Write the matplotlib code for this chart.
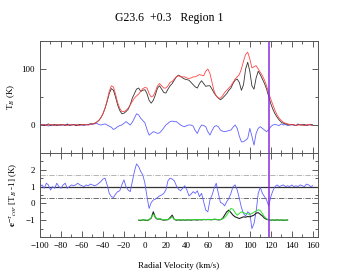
"""
Spectra plot: G23.6 +0.3 Region 1
"""
import numpy
import matplotlib
matplotlib.use('Agg')
import matplotlib.pyplot as plt
from matplotlib.ticker import MultipleLocator

# velocity grid for emission / ratio spectra (km/s)
vel = numpy.arange(-100, 161, 2)

# brightness temperature, observed (black)
tb_obs = [0, 1, -1, 0, 2, -1, 0, 1, -1, 0,
          1, 0, -1, 1, 0, 0, 1, -1, 0, 1,
          0, 1, 0, 1, 2, 2, 3, 5, 8, 13,
          20, 30, 42, 56, 65, 62, 50, 36, 26, 20,
          21, 24, 28, 36, 48, 56, 64, 66, 60, 62,
          63, 56, 44, 39, 44, 54, 66, 70, 64, 58,
          57, 64, 70, 74, 80, 86, 89, 87, 84, 82,
          81, 80, 76, 72, 68, 66, 74, 79, 74, 69,
          70, 70, 64, 57, 52, 48, 45, 48, 52, 56,
          62, 66, 74, 80, 82, 76, 62, 72, 100, 112,
          96, 70, 64, 84, 96, 90, 82, 74, 64, 51,
          38, 28, 20, 14, 9, 5, 3, 2, 1, 0,
          1, 0, -1, 1, 0, 0, 1, -1, 0, 1,
          0]

# brightness temperature, model (red)
tb_model = [1, 0, 1, -1, 0, 1, 0, -1, 1, 0,
            0, 1, 0, -1, 1, 0, 0, 1, 0, -1,
            1, 0, 1, 0, 1, 2, 3, 5, 8, 13,
            20, 30, 44, 60, 70, 68, 55, 40, 30, 24,
            24, 26, 30, 36, 42, 48, 52, 55, 60, 65,
            67, 66, 56, 50, 52, 60, 70, 74, 70, 66,
            66, 70, 76, 78, 82, 86, 88, 86, 86, 86,
            84, 83, 84, 86, 86, 88, 90, 89, 88, 96,
            100, 92, 76, 60, 52, 48, 48, 52, 58, 62,
            66, 70, 76, 82, 86, 90, 100, 114, 126, 130,
            118, 102, 104, 106, 100, 94, 88, 80, 70, 57,
            46, 36, 26, 18, 12, 8, 5, 3, 2, 1,
            0, 1, -1, 0, 1, 0, -1, 0, 1, 0,
            -1]

# residual (blue)
tb_resid = [0, -1, 1, 0, -2, 1, 0, -1, 1, 0,
            -1, 1, 0, 2, -1, 0, 1, 0, -1, 1,
            0, -1, 1, 0, 2, 1, 2, 3, 1, 0,
            1, 2, 0, -2, -4, -8, -6, -3, -1, 0,
            3, 6, 3, 0, 5, 12, 20, 18, 12, 8,
            4, -8, -18, -15, -12, -13, -15, -14, -10, -5,
            0, 3, 6, 7, 6, 6, 3, 0, -2, -3,
            -1, 0, 0, -2, -10, -15, -6, 0, -1, -3,
            -12, -18, -10, -3, -1, -3, -9, -11, -12, -11,
            -10, -9, -4, 0, -6, -20, -30, -30, -27, -24,
            -6, -20, -36, -15, -6, -3, -6, -9, -12, -8,
            -3, 0, 1, 0, -1, 2, 0, 1, -1, 0,
            1, 0, -1, 2, 0, 1, -1, 0, 1, 0,
            0]

# corrected absorption ratio (blue, lower panel)
abs_ratio = [1.0, 1.1, 0.9, 1.2, 1.1, 0.8, 1.0, 0.9, 1.2, 1.0,
             0.9, 1.1, 1.2, 0.9, 1.0, 1.1, 1.05, 1.1, 1.2, 1.1,
             1.05, 1.0, 1.1, 1.05, 1.15, 1.1, 1.05, 1.1, 1.2, 1.3,
             1.45, 1.5, 1.1, 0.6, 0.4, 0.35, 0.55, 0.7, 0.75, 1.1,
             1.4, 1.0, 0.8, 0.7, 1.3, 1.9, 2.35, 2.2, 1.9, 1.7,
             1.2, 0.4, -0.3, 0.05, 0.2, 0.25, 0.35, 0.45, 0.5, 0.6,
             0.8, 1.35, 1.5, 1.45, 1.35, 1.05, 0.85, 0.75, 0.9, 1.05,
             0.8, 0.45, 0.55, 0.7, 0.6, 0.75, 0.4, 0.6, 0.1, -0.4,
             -0.5, 0.2, 0.5, 0.9, 1.2, 0.6, 0.05, 0.0, -0.15, 0.1,
             0.3, 0.6, 1.0, 1.1, 0.8, 0.3, -0.25, -0.6, -0.75, -0.5,
             -0.6, -1.5, -1.2, -0.5, 0.6, 0.95, 0.6, 0.4, 0.2, -0.15,
             0.4, 0.75, 1.0, 1.1, 1.0, 1.05, 1.1, 1.0, 1.05, 1.0,
             1.1, 1.0, 1.05, 1.0, 1.1, 1.05, 1.0, 1.15, 1.1, 1.0,
             1.05]

# absorption spectra (offset -1)
vel_abs = numpy.arange(-6, 137, 2)
abs_obs = [-1.0, -1.02, -0.98, -1.0, -1.02, -0.97, -0.88, -0.5, -0.85, -0.95,
           -0.92, -0.97, -1.0, -0.98, -0.97, -0.85, -0.7, -0.95, -1.0, -0.98,
           -1.0, -0.98, -1.0, -0.99, -0.98, -1.0, -0.97, -0.98, -0.99, -0.97,
           -0.98, -0.96, -0.97, -0.96, -0.97, -0.97, -0.95, -0.96, -0.98, -0.97,
           -0.9, -0.7, -0.5, -0.4, -0.55, -0.7, -0.8, -0.85, -0.9, -0.85,
           -0.8, -0.82, -0.78, -0.8, -0.75, -0.7, -0.58, -0.55, -0.65, -0.75,
           -0.88, -0.95, -0.98, -1.0, -0.99, -1.0, -0.98, -1.0, -0.99, -1.0,
           -1.0, -0.99]
abs_model = [-1.0, -0.99, -1.0, -0.98, -1.0, -0.96, -0.85, -0.65, -0.8, -0.95,
             -0.9, -0.95, -0.98, -0.97, -0.96, -0.9, -0.8, -0.95, -0.98, -0.97,
             -0.98, -0.97, -0.99, -0.98, -0.97, -0.98, -0.96, -0.97, -0.98, -0.96,
             -0.97, -0.95, -0.96, -0.95, -0.96, -0.97, -0.94, -0.95, -0.97, -0.96,
             -0.92, -0.85, -0.7, -0.5, -0.3, -0.35, -0.55, -0.7, -0.6, -0.5,
             -0.55, -0.6, -0.62, -0.65, -0.6, -0.52, -0.45, -0.38, -0.42, -0.6,
             -0.8, -0.92, -0.97, -0.99, -1.0, -0.98, -1.0, -0.99, -1.0, -0.98,
             -1.0, -0.99]

v_marker = 118.5
ref_levels = [1.72, 0.35]

plt.rcParams['font.family'] = ['Liberation Serif', 'DejaVu Serif']
plt.rcParams['mathtext.fontset'] = 'stix'


def style_axes(ax):
  ax.set_xlim(-100, 165)
  ax.xaxis.set_major_locator(MultipleLocator(20))
  ax.xaxis.set_minor_locator(MultipleLocator(10))
  ax.tick_params(which='both', direction='in', top=True, right=True,
                 labelsize=6.5, width=0.6, color='#444444')
  ax.tick_params(which='major', length=4)
  ax.tick_params(which='minor', length=2)
  for s in ax.spines.values():
    s.set_linewidth(0.7)
    s.set_color('#555555')


fig = plt.figure(figsize=(3.38, 2.73), dpi=100)
W, H = 338.0, 273.0
ax1 = fig.add_axes([40 / W, 1 - 153 / H, 278 / W, 112 / H])
ax2 = fig.add_axes([40 / W, 1 - 237 / H, 278 / W, 84 / H])

# top panel
ax1.plot(vel, tb_resid, color='#6060ff', lw=0.6)
ax1.plot(vel, tb_obs, color='#333333', lw=0.6)
ax1.plot(vel, tb_model, color='#ff4545', lw=0.6)
ax1.axvline(v_marker, color='#8a2be2', lw=1.1)
style_axes(ax1)
ax1.set_ylim(-50, 150)
ax1.yaxis.set_major_locator(MultipleLocator(100))
ax1.yaxis.set_minor_locator(MultipleLocator(50))
ax1.tick_params(labelbottom=False)
ax1.set_ylabel(r'T$_B$ (K)', fontsize=6.5, labelpad=3)

# bottom panel
ax2.axhline(1.0, color='#333333', lw=0.9)
ax2.axhline(ref_levels[0], color='#aaaaaa', lw=0.6, ls='-.')
ax2.axhline(ref_levels[1], color='#555555', lw=0.6, ls='-.')
ax2.plot(vel, abs_ratio, color='#6060ff', lw=0.6)
ax2.plot(vel_abs, abs_obs, color='#222222', lw=0.8)
ax2.plot(vel_abs, abs_model, color='#30e030', lw=0.7)
ax2.axvline(v_marker, color='#8a2be2', lw=1.1)
style_axes(ax2)
ax2.set_ylim(-2, 3)
ax2.yaxis.set_major_locator(MultipleLocator(1))
ax2.yaxis.set_minor_locator(MultipleLocator(0.5))
ax2.set_yticks([-1, 0, 1, 2])
ax2.set_ylabel(r'$\mathbf{e}^{-\tau}$$_{cor}$ [T$_B$ -1] (K)', fontsize=6.5, labelpad=4)
ax2.set_xlabel('Radial Velocity (km/s)', fontsize=6.5, labelpad=9)

fig.text(0.5, 1 - 18 / H, 'G23.6  +0.3   Region 1', ha='center', va='center', fontsize=8.5)

plt.savefig('out.png', dpi=100)
plt.close(fig)
